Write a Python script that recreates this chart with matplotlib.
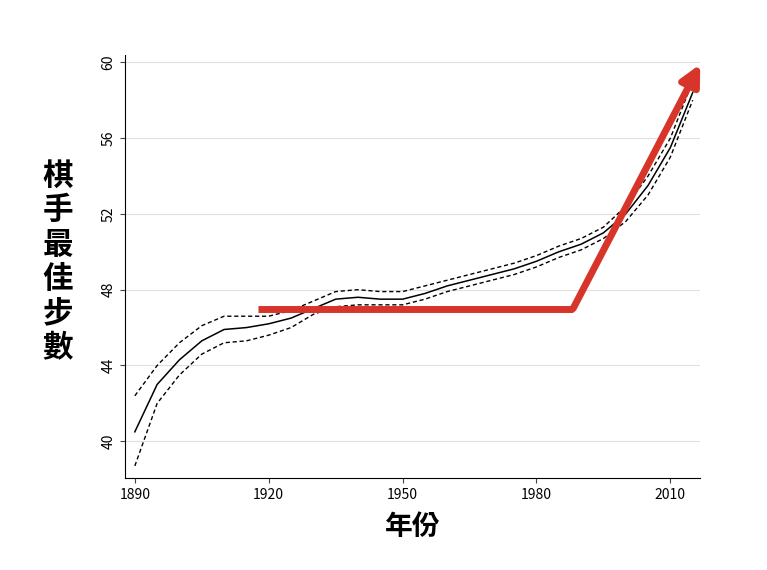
import numpy as np
import matplotlib.pyplot as plt

plt.rcParams['font.family'] = ['Noto Sans CJK TC', 'DejaVu Sans']

years = [1890, 1895, 1900, 1905, 1910, 1915, 1920, 1925, 1930, 1935, 1940, 1945,
         1950, 1955, 1960, 1965, 1970, 1975, 1980, 1985, 1990, 1995, 2000, 2005, 2010, 2015]
mid = [40.5, 43.0, 44.3, 45.3, 45.9, 46.0, 46.2, 46.5, 47.0, 47.5, 47.6, 47.5,
       47.5, 47.8, 48.2, 48.5, 48.8, 49.1, 49.5, 50.0, 50.4, 51.0, 52.0, 53.5, 55.5, 58.4]
upper = [42.4, 44.0, 45.2, 46.1, 46.6, 46.6, 46.6, 46.9, 47.4, 47.9, 48.0, 47.9,
         47.9, 48.2, 48.5, 48.8, 49.1, 49.4, 49.8, 50.3, 50.7, 51.3, 52.4, 54.0, 56.0, 59.0]
lower = [38.7, 42.0, 43.5, 44.6, 45.2, 45.3, 45.6, 46.0, 46.7, 47.1, 47.2, 47.2,
         47.2, 47.5, 47.9, 48.2, 48.5, 48.8, 49.2, 49.7, 50.1, 50.7, 51.6, 53.0, 55.0, 58.0]

flat_x = [1917.6, 1988.2]
flat_y = 47.0
arrow_tip = (2016.7, 59.9)

fig = plt.figure(figsize=(7.67, 5.70), dpi=100)
ax = fig.add_axes([0.163, 0.161, 0.75, 0.743])

ax.plot(years, mid, color='black', lw=1.1)
ax.plot(years, upper, color='black', lw=1.0, ls=(0, (3, 2)))
ax.plot(years, lower, color='black', lw=1.0, ls=(0, (3, 2)))

red = '#d8352a'
ax.plot(flat_x, [flat_y, flat_y], color=red, lw=5, solid_capstyle='butt', zorder=5)
ax.annotate('', xy=arrow_tip, xytext=(flat_x[1], flat_y),
            arrowprops=dict(arrowstyle='-|>,head_length=1.2,head_width=0.6',
                            color=red, lw=5, shrinkA=0, shrinkB=0), zorder=5)

ax.set_xlim(1887.8, 2016.7)
ax.set_ylim(38.05, 60.4)
ax.set_xticks([1890, 1920, 1950, 1980, 2010])
ax.set_yticks([40, 44, 48, 52, 56, 60])
ax.grid(axis='y', color='#e0e0e0', lw=0.8)
ax.set_axisbelow(True)
for s in ['top', 'right']:
    ax.spines[s].set_visible(False)
ax.tick_params(labelsize=10, color='#444444')
plt.setp(ax.get_yticklabels(), rotation=90, va='center')

ax.set_xlabel('年份', fontsize=20, fontweight='bold', labelpad=8)
fig.text(0.075, 0.54, '棋\n手\n最\n佳\n步\n數', fontsize=22, fontweight='bold',
         ha='center', va='center', linespacing=1.1)

fig.savefig('out.png', dpi=100, facecolor='white')
